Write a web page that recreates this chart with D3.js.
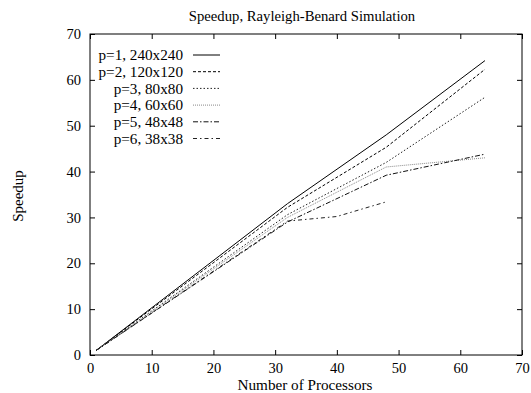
<!DOCTYPE html>
<html lang="en">
<head>
    <meta charset="UTF-8">
    <script src="https://d3js.org/d3.v7.min.js"></script>
    <style>
        body {margin: 0; background: #fff;}
        svg {display: block; font-family: "Liberation Serif", "DejaVu Serif", serif;}
    </style>
</head>
<body>
<svg class="chart" width="531" height="393"></svg>
<script type="text/javascript">
    // processors used for each run
    let procs   = [1, 32, 48, 64];
    let procs6  = [1, 32, 40, 48];

    let p1 = [1, 33.0, 48.0, 64.2];
    let p2 = [1, 32.2, 45.3, 62.3];
    let p3 = [1, 30.6, 42.0, 56.2];
    let p4 = [1, 30.0, 41.0, 43.0];
    let p5 = [1, 29.0, 39.2, 43.8];
    let p6 = [1, 29.2, 30.2, 33.4];

    let labels = ['p=1, 240x240', 'p=2, 120x120', 'p=3, 80x80', 'p=4, 60x60', 'p=5, 48x48', 'p=6, 38x38'];
    let xTicks = [0, 10, 20, 30, 40, 50, 60, 70];
    let yTicks = [0, 10, 20, 30, 40, 50, 60, 70];

    let series = [
        {x: procs,  y: p1, dash: null,        color: '#000'},
        {x: procs,  y: p2, dash: '3,2',       color: '#000'},
        {x: procs,  y: p3, dash: '1.5,2',     color: '#222'},
        {x: procs,  y: p4, dash: '1,1',       color: '#888'},
        {x: procs,  y: p5, dash: '5,2,1.5,2', color: '#111'},
        {x: procs6, y: p6, dash: '4,3,1.5,3', color: '#222'}
    ];

    let plotL = 90, plotR = 522, plotT = 34, plotB = 355;

    let x = d3.scaleLinear().domain([0, 70]).range([plotL, plotR]);
    let y = d3.scaleLinear().domain([0, 70]).range([plotB, plotT]);

    let svg = d3.select('.chart');

    // ticks on all four sides, pointing inward
    svg.append('g').attr('transform', 'translate(0,' + plotB + ')')
        .call(d3.axisBottom(x).tickValues(xTicks).tickSize(-5).tickPadding(8))
        .call(g => g.select('.domain').remove());
    svg.append('g').attr('transform', 'translate(0,' + plotT + ')')
        .call(d3.axisTop(x).tickValues(xTicks).tickSize(-5).tickFormat(''))
        .call(g => g.select('.domain').remove());
    svg.append('g').attr('transform', 'translate(' + plotL + ',0)')
        .call(d3.axisLeft(y).tickValues(yTicks).tickSize(-5).tickPadding(9))
        .call(g => g.select('.domain').remove());
    svg.append('g').attr('transform', 'translate(' + plotR + ',0)')
        .call(d3.axisRight(y).tickValues(yTicks).tickSize(-5).tickFormat(''))
        .call(g => g.select('.domain').remove());

    svg.selectAll('.tick text').attr('font-size', '14.5px').attr('fill', '#000')
        .attr('font-family', '"Liberation Serif", serif');
    svg.selectAll('.tick line').attr('stroke', '#000');

    svg.append('rect')
        .attr('x', plotL).attr('y', plotT)
        .attr('width', plotR - plotL).attr('height', plotB - plotT)
        .attr('fill', 'none').attr('stroke', '#000').attr('stroke-width', 1);

    let line = d3.line()
        .x(d => x(d[0]))
        .y(d => y(d[1]));

    series.forEach(s => {
        svg.append('path')
            .datum(s.x.map((v, i) => [v, s.y[i]]))
            .attr('d', line)
            .attr('fill', 'none')
            .attr('stroke', s.color)
            .attr('stroke-width', 1)
            .attr('stroke-dasharray', s.dash);
    });

    // legend
    let legY = 55, legStep = 16.7;
    series.forEach((s, i) => {
        svg.append('text')
            .attr('x', 183).attr('y', legY + i * legStep)
            .attr('dy', '0.35em')
            .attr('text-anchor', 'end')
            .attr('font-size', '15.2px')
            .text(labels[i]);
        svg.append('line')
            .attr('x1', 193).attr('x2', 220)
            .attr('y1', legY + i * legStep).attr('y2', legY + i * legStep)
            .attr('stroke', s.color)
            .attr('stroke-width', 1)
            .attr('stroke-dasharray', s.dash);
    });

    svg.append('text').attr('x', 302).attr('y', 21).attr('text-anchor', 'middle')
        .attr('font-size', '14.7px').text('Speedup, Rayleigh-Benard Simulation');
    svg.append('text').attr('x', 305).attr('y', 390).attr('text-anchor', 'middle')
        .attr('font-size', '15.2px').text('Number of Processors');
    svg.append('text').attr('transform', 'translate(23,196) rotate(-90)')
        .attr('text-anchor', 'middle')
        .attr('font-size', '15px').text('Speedup');
</script>
</body>
</html>
